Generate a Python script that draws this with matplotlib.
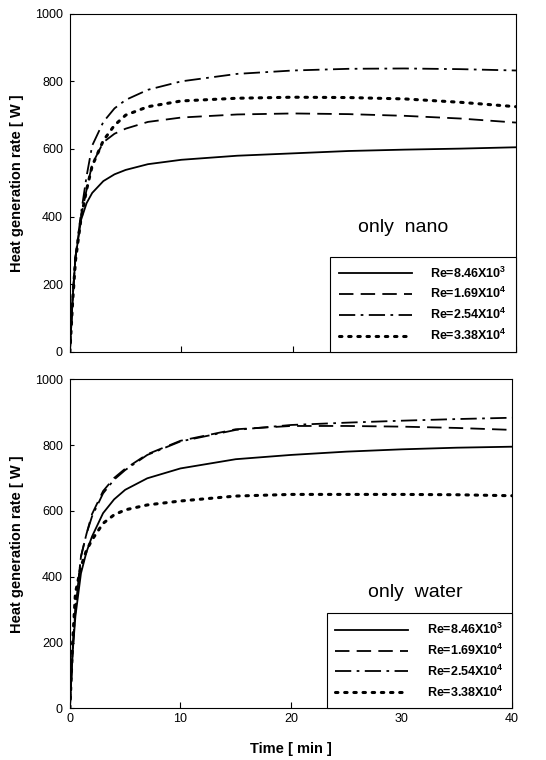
import matplotlib
matplotlib.use("Agg")
import matplotlib.pyplot as plt

plt.rcParams['font.family'] = ['Liberation Sans', 'DejaVu Sans']
plt.rcParams['mathtext.fontset'] = 'custom'
plt.rcParams['mathtext.rm'] = 'Liberation Sans:bold'
plt.rcParams['mathtext.bf'] = 'Liberation Sans:bold'

# time axis [min]
time = [0, 0.25, 0.5, 1, 1.5, 2, 3, 4, 5, 7, 10, 15, 20, 25, 30, 35, 40]

# only nano, heat generation rate [W]
nano_846e3 = [0, 160, 280, 390, 440, 470, 505, 525, 538, 555, 568, 580, 587, 594, 598, 601, 605]
nano_169e4 = [0, 160, 280, 400, 480, 555, 620, 645, 660, 680, 693, 702, 705, 703, 698, 690, 678]
nano_254e4 = [0, 160, 280, 410, 520, 610, 680, 720, 745, 775, 800, 822, 832, 837, 838, 836, 832]
nano_338e4 = [0, 150, 270, 395, 480, 550, 625, 670, 700, 725, 742, 750, 753, 752, 748, 738, 725]

# only water
water_846e3 = [0, 170, 280, 410, 475, 522, 593, 635, 664, 699, 729, 757, 770, 780, 787, 792, 795]
water_169e4 = [0, 180, 300, 461, 530, 590, 660, 700, 728, 772, 813, 848, 858, 858, 856, 852, 846]
water_254e4 = [0, 180, 300, 461, 530, 583, 653, 695, 724, 770, 811, 846, 861, 868, 874, 879, 883]
water_338e4 = [0, 200, 350, 430, 480, 512, 562, 588, 603, 618, 630, 645, 650, 650, 650, 649, 646]

labels = [r"Re=8.46X10$^{3}$", r"Re=1.69X10$^{4}$",
          r"Re=2.54X10$^{4}$", r"Re=3.38X10$^{4}$"]
styles = [
    dict(linestyle='-', linewidth=1.3),
    dict(linestyle=(0, (8, 4)), linewidth=1.3),
    dict(linestyle=(0, (9, 3, 1.5, 3)), linewidth=1.3),
    dict(linestyle=(0, (0.8, 2.2)), linewidth=2.2, dash_capstyle='round'),
]

fig = plt.figure(figsize=(5.46, 7.6), dpi=100)
ax1 = fig.add_axes([0.128, 0.537, 0.817, 0.445])
ax2 = fig.add_axes([0.128, 0.068, 0.810, 0.433])


def draw_panel(ax, series, tag, tag_pos, show_x):
    for vals, lab, st in zip(series, labels, styles):
        ax.plot(time, vals, color='black', label=lab, **st)
    ax.set_xlim(0, 40)
    ax.set_ylim(0, 1000)
    ax.set_xticks([0, 10, 20, 30, 40])
    ax.set_yticks([0, 200, 400, 600, 800, 1000])
    ax.tick_params(axis='x', direction='in', length=4, labelsize=9)
    ax.tick_params(axis='y', direction='in', length=3, labelsize=9, pad=5)
    if not show_x:
        ax.set_xticklabels([])
    for sp in ax.spines.values():
        sp.set_linewidth(0.8)
    ax.set_ylabel("Heat generation rate [ W ]", fontsize=10.5,
                  fontweight='bold', labelpad=8)
    ax.text(tag_pos[0], tag_pos[1], tag, transform=ax.transAxes,
            fontsize=14, ha='center', va='center')
    leg = ax.legend(loc='lower right', bbox_to_anchor=(1.0, 0.0),
                    borderaxespad=0, fancybox=False, edgecolor='black',
                    framealpha=1, fontsize=9, handlelength=5.8,
                    handletextpad=1.5, labelspacing=0.45,
                    borderpad=0.7)
    leg.get_frame().set_linewidth(0.8)
    for t in leg.get_texts():
        t.set_fontweight('bold')


draw_panel(ax1, [nano_846e3, nano_169e4, nano_254e4, nano_338e4],
           "only  nano", (0.747, 0.367), False)
draw_panel(ax2, [water_846e3, water_169e4, water_254e4, water_338e4],
           "only  water", (0.78, 0.353), True)
ax2.set_xlabel("Time [ min ]", fontsize=10.5, fontweight='bold', labelpad=12)

fig.savefig("out.png", dpi=100)
